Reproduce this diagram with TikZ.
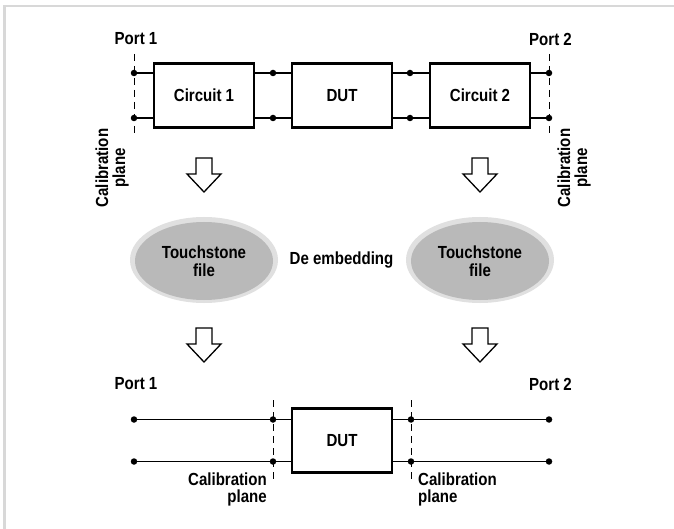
\documentclass[tikz,border=0pt]{standalone}
\usepackage{fontspec}
\setmainfont{Liberation Sans}[FakeStretch=0.86]
\usetikzlibrary{shapes.geometric}
\definecolor{framegray}{HTML}{D8D8D8}
\definecolor{ellfill}{HTML}{B9B9B9}
\definecolor{ellring}{HTML}{E0E0E0}
\begin{document}
\begin{tikzpicture}[x=1pt,y=-1pt,
  lbl/.style={font=\bfseries\fontsize{17.5}{18}\selectfont, inner sep=0pt},
  blk/.style={draw, line width=2.4pt, minimum width=100pt, minimum height=64pt, inner sep=0pt, font=\bfseries\fontsize{17.5}{18}\selectfont},
  wire/.style={line width=1.2pt},
  plane/.style={line width=1pt, dash pattern=on 7pt off 5pt},
  dot/.style={circle, fill, inner sep=0pt, minimum size=6.5pt},
  cal/.style={lbl, font=\bfseries\fontsize{17.5}{17}\selectfont},
  pics/blockarrow/.style={code={
    \draw[line width=1.3pt, line join=miter, fill=white] (-8,0) -- (8,0) -- (8,16) -- (17,16) -- (0,34) -- (-17,16) -- (-8,16) -- cycle;}}
]
\useasboundingbox (0,0) rectangle (674,529);
\fill[white] (0,0) rectangle (674,529);
\draw[framegray, line width=2.6pt] (4.5,529) -- (4.5,6) -- (674,6);

% ---------- top row ----------
\node[lbl] (p1t) at (136,39) {Port 1};
\node[lbl] (p2t) at (550.5,39) {Port 2};
\node[blk] (c1) at (204,95.5) {Circuit 1};
\node[blk] (dut1) at (342,95.5) {DUT};
\node[blk] (c2) at (480,95.5) {Circuit 2};

\node[dot] (a1) at (134,73) {};
\node[dot] (a2) at (134,118) {};
\node[dot] (b1) at (273,73) {};
\node[dot] (b2) at (273,118) {};
\node[dot] (d1) at (410,73) {};
\node[dot] (d2) at (410,118) {};
\node[dot] (e1) at (549,73) {};
\node[dot] (e2) at (549,118) {};

\coordinate (cpl1a) at (134,54);
\coordinate (cpl1b) at (134,137);
\coordinate (cpl2a) at (549,54);
\coordinate (cpl2b) at (549,137);
\draw[plane] (cpl1a) -- (cpl1b);
\draw[plane] (cpl2a) -- (cpl2b);

\draw[wire] (a1.center) -- (c1.west |- a1);
\draw[wire] (a2.center) -- (c1.west |- a2);
\draw[wire] (c1.east |- b1) -- (dut1.west |- b1);
\draw[wire] (c1.east |- b2) -- (dut1.west |- b2);
\draw[wire] (dut1.east |- d1) -- (c2.west |- d1);
\draw[wire] (dut1.east |- d2) -- (c2.west |- d2);
\draw[wire] (c2.east |- e1) -- (e1.center);
\draw[wire] (c2.east |- e2) -- (e2.center);

\node[cal, rotate=90, align=center] (cp1) at (112,168) {Calibration\\plane};
\node[cal, rotate=90, align=center] (cp2) at (574,168) {Calibration\\plane};

% ---------- arrows ----------
\pic at (204,158) {blockarrow};
\pic at (480,158) {blockarrow};
\pic at (204,328) {blockarrow};
\pic at (480,328) {blockarrow};

% ---------- touchstone ----------
\fill[ellring] (204,260) ellipse [x radius=74, y radius=43];
\fill[ellfill] (204,261) ellipse [x radius=69, y radius=39];
\fill[ellring] (480,260) ellipse [x radius=74, y radius=43];
\fill[ellfill] (480,261) ellipse [x radius=69, y radius=39];
\node[lbl, align=center] (ts1) at (204,261) {Touchstone\\file};
\node[lbl, align=center] (ts2) at (480,261) {Touchstone\\file};
\node[lbl] (deemb) at (341.5,260) {De embedding};

% ---------- bottom row ----------
\node[lbl] (p1b) at (136,384) {Port 1};
\node[lbl] (p2b) at (550.5,384) {Port 2};
\node[blk] (dut2) at (342,440.5) {DUT};

\node[dot] (f1) at (134,419.5) {};
\node[dot] (f2) at (134,461.5) {};
\node[dot] (g1) at (273,419.5) {};
\node[dot] (g2) at (273,461.5) {};
\node[dot] (h1) at (411,419.5) {};
\node[dot] (h2) at (411,461.5) {};
\node[dot] (k1) at (549,419.5) {};
\node[dot] (k2) at (549,461.5) {};

\coordinate (cpl3a) at (273,400);
\coordinate (cpl3b) at (273,481);
\coordinate (cpl4a) at (411,400);
\coordinate (cpl4b) at (411,481);
\draw[plane] (cpl3a) -- (cpl3b);
\draw[plane] (cpl4a) -- (cpl4b);

\draw[wire] (f1.center) -- (dut2.west |- f1);
\draw[wire] (f2.center) -- (dut2.west |- f2);
\draw[wire] (dut2.east |- k1) -- (k1.center);
\draw[wire] (dut2.east |- k2) -- (k2.center);

\node[cal, align=right, anchor=north east] (cp3) at (267,473) {Calibration\\plane};
\node[cal, align=left, anchor=north west] (cp4) at (418,473) {Calibration\\plane};
\end{tikzpicture}
\end{document}
